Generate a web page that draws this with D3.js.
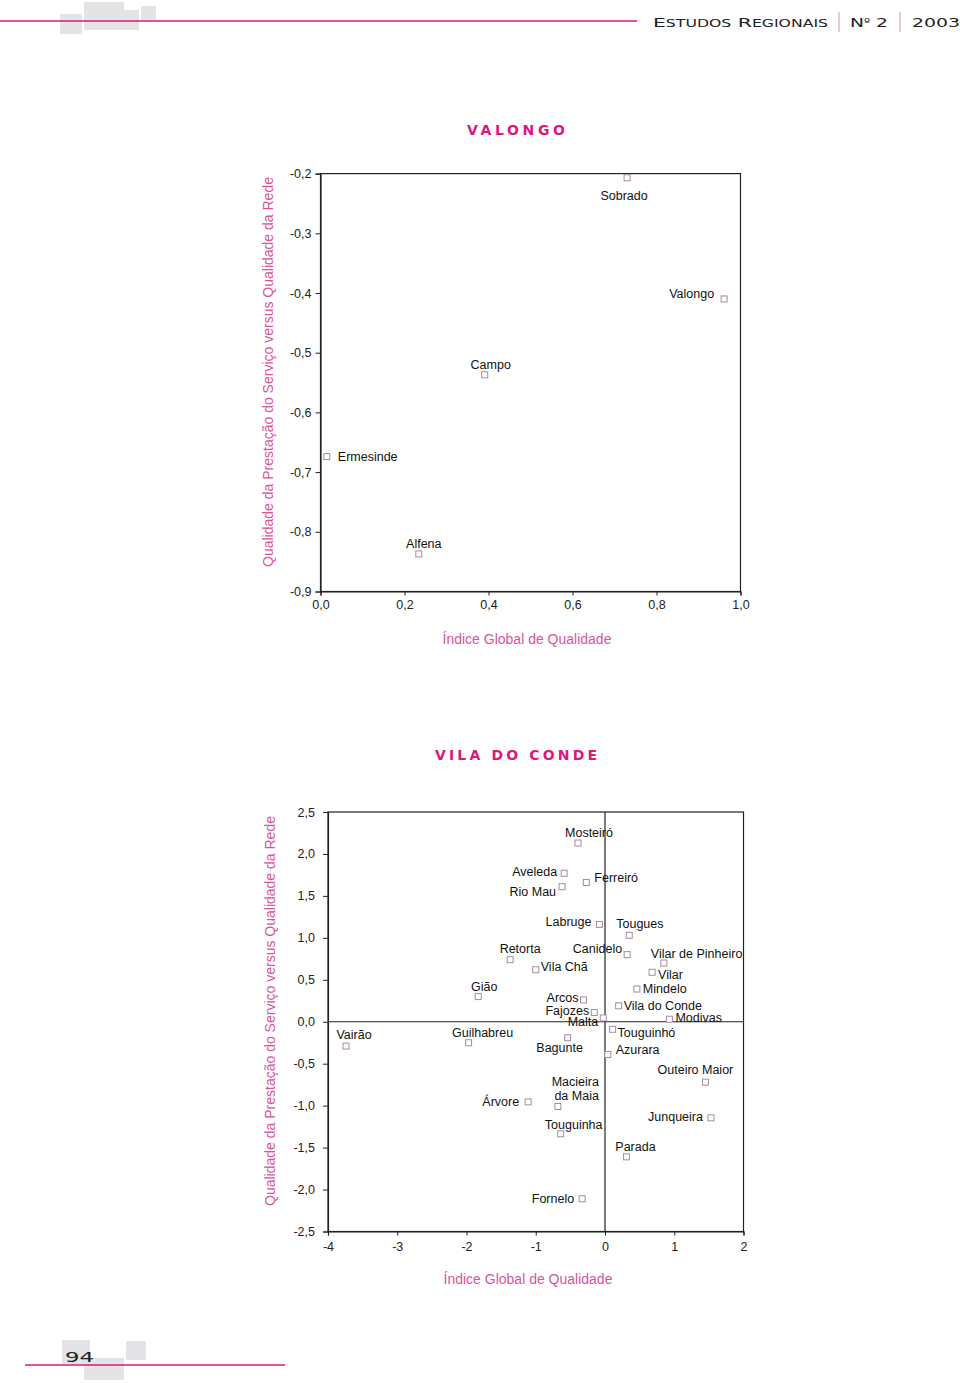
<!DOCTYPE html>
<html><head><meta charset="utf-8">
<script src="https://cdn.jsdelivr.net/npm/d3@7"></script>
<style>
body{margin:0;background:#fff;}
svg{display:block;font-family:"Liberation Sans",Arial,sans-serif;}
</style></head>
<body>
<svg id="c" width="960" height="1383"></svg>
<script>
// ---------- DATA ----------
const valongoNames = ["Sobrado","Valongo","Campo","Ermesinde","Alfena"];
const valongoX = [0.730, 0.961, 0.391, 0.015, 0.234];
const valongoY = [-0.207, -0.410, -0.537, -0.674, -0.837];
const valongoXTicks = [0.0, 0.2, 0.4, 0.6, 0.8, 1.0];
const valongoYTicks = [-0.2, -0.3, -0.4, -0.5, -0.6, -0.7, -0.8, -0.9];

const vcNames = ["Mosteiró","Aveleda","Rio Mau","Ferreiró","Labruge","Tougues","Canidelo",
  "Retorta","Vila Chã","Vilar de Pinheiro","Vilar","Mindelo","Gião","Arcos","Vila do Conde",
  "Fajozes","Malta","Modivas","Touguinhó","Vairão","Guilhabreu","Bagunte","Azurara",
  "Outeiro Maior","Árvore","Macieira\nda Maia","Junqueira","Touguinha","Parada","Fornelo"];
const vcX = [-0.39,-0.59,-0.62,-0.27,-0.08,0.35,0.32,
  -1.37,-1.00,0.85,0.68,0.46,-1.83,-0.31,0.197,
  -0.155,-0.025,0.93,0.11,-3.74,-1.97,-0.54,0.04,
  1.45,-1.11,-0.68,1.53,-0.64,0.31,-0.33];
const vcY = [2.13,1.77,1.61,1.66,1.16,1.03,0.80,
  0.74,0.62,0.70,0.59,0.39,0.30,0.26,0.19,
  0.11,0.045,0.03,-0.09,-0.29,-0.25,-0.19,-0.39,
  -0.72,-0.955,-1.01,-1.145,-1.335,-1.61,-2.11];
const vcXTicks = [-4,-3,-2,-1,0,1,2];
const vcYTicks = [2.5,2.0,1.5,1.0,0.5,0.0,-0.5,-1.0,-1.5,-2.0,-2.5];

const yTitle = "Qualidade da Prestação do Serviço versus Qualidade da Rede";
const xTitle = "Índice Global de Qualidade";

// ---------- LABEL PLACEMENT (layout) ----------
const valongoLab = {
  "Sobrado":["middle",-3,22],"Valongo":["end",-10,-1],"Campo":["middle",6,-6],
  "Ermesinde":["start",11,4],"Alfena":["middle",5,-6]
};
const vcLab = {
  "Mosteiró":["middle",11,-6],"Aveleda":["end",-7,3],"Rio Mau":["end",-6,9],
  "Ferreiró":["start",8,0],"Labruge":["end",-8,2],"Tougues":["start",-13,-7],
  "Canidelo":["end",-5,-2],"Retorta":["middle",10,-7],"Vila Chã":["start",5,1],
  "Vilar de Pinheiro":["start",-13,-5],"Vilar":["start",6,7],"Mindelo":["start",6,4],
  "Gião":["middle",6,-6],"Arcos":["end",-5,2],"Vila do Conde":["start",5,4],
  "Fajozes":["end",-5,2],"Malta":["end",-5,8],"Modivas":["start",6,3],
  "Touguinhó":["start",5,8],"Vairão":["middle",8,-7],"Guilhabreu":["middle",14,-6],
  "Bagunte":["middle",-8,14],"Azurara":["start",8,0],"Outeiro Maior":["middle",-10,-8],
  "Árvore":["end",-9,4],"Macieira\nda Maia":["end",41,-20],"Junqueira":["end",-8,3],
  "Touguinha":["middle",13,-5],"Parada":["middle",9,-6],"Fornelo":["end",-8,4]
};

const PINK = "#e0157f";
const SOFT = "#d9559a";
const MARK = "#a88aa6";
const svg = d3.select("#c");

// ---------- HEADER / FOOTER ----------
const gray = "#e4e4e6";
[[60,14,22,20],[84,2,40,28],[119,10,20,20],[141,6,15,14]].forEach(r=>
  svg.append("rect").attr("x",r[0]).attr("y",r[1]).attr("width",r[2]).attr("height",r[3]).attr("fill",gray));
svg.append("line").attr("x1",0).attr("x2",637).attr("y1",21).attr("y2",21).attr("stroke",PINK).attr("stroke-width",1.5);
const hdr = svg.append("g").attr("font-family","'DejaVu Sans',sans-serif").attr("fill","#222");
hdr.append("text").attr("x",653).attr("y",27).attr("font-size",13).attr("textLength",175).attr("lengthAdjust","spacingAndGlyphs")
  .html('E<tspan font-size="10">STUDOS</tspan> R<tspan font-size="10">EGIONAIS</tspan>');
hdr.append("text").attr("x",850).attr("y",27).attr("font-size",13).attr("textLength",38).attr("lengthAdjust","spacingAndGlyphs")
  .html('N<tspan font-size="9" dy="-2">º</tspan><tspan dy="2"> 2</tspan>');
hdr.append("text").attr("x",912).attr("y",27).attr("font-size",13).attr("textLength",48).attr("lengthAdjust","spacingAndGlyphs").text("2003");
[839,900].forEach(x=>svg.append("line").attr("x1",x).attr("x2",x).attr("y1",12).attr("y2",32).attr("stroke","#d890b8").attr("stroke-width",1));

[[62,1340,28,24],[84,1358,40,22],[126,1341,20,19]].forEach(r=>
  svg.append("rect").attr("x",r[0]).attr("y",r[1]).attr("width",r[2]).attr("height",r[3]).attr("fill",gray));
svg.append("line").attr("x1",25).attr("x2",285).attr("y1",1365).attr("y2",1365).attr("stroke",PINK).attr("stroke-width",1.5);
svg.append("text").attr("x",65).attr("y",1362).attr("font-family","'DejaVu Sans',sans-serif").attr("font-size",14)
  .attr("textLength",29).attr("lengthAdjust","spacingAndGlyphs").attr("fill","#222").text("94");

// ---------- CHART BUILDER ----------
function chart(o){
  const g = svg.append("g");
  const x = d3.scaleLinear().domain(o.xd).range([o.x0,o.x1]);
  const y = d3.scaleLinear().domain(o.yd).range([o.y1,o.y0]);
  g.append("text").attr("x",516).attr("y",o.titleY).attr("text-anchor","middle")
    .attr("font-family","'DejaVu Sans',sans-serif").attr("font-size",14).attr("font-weight","bold")
    .attr("fill",PINK).attr("textLength",o.titleLen).attr("lengthAdjust","spacing").text(o.title);
  g.append("rect").attr("x",o.x0).attr("y",o.y0).attr("width",o.x1-o.x0).attr("height",o.y1-o.y0)
    .attr("fill","none").attr("stroke","#222").attr("stroke-width",1.2);
  const ax = g.append("g").attr("transform",`translate(0,${o.y1})`)
    .call(d3.axisBottom(x).tickValues(o.xt).tickSize(4).tickPadding(o.xpad).tickFormat(o.xfmt));
  const ay = g.append("g").attr("transform",`translate(${o.x0},0)`)
    .call(d3.axisLeft(y).tickValues(o.yt).tickSize(5).tickPadding(o.ypad).tickFormat(o.yfmt));
  [ax,ay].forEach(a=>{
    a.select(".domain").attr("stroke","#222").attr("stroke-width",1.2);
    a.selectAll(".tick line").attr("stroke","#222");
    a.selectAll("text").attr("font-size",12.5).attr("fill","#222").attr("font-family","'Liberation Sans',Arial,sans-serif");
  });
  if(o.zeroLines){
    g.append("line").attr("x1",x(0)).attr("x2",x(0)).attr("y1",o.y0).attr("y2",o.y1).attr("stroke","#222").attr("stroke-width",1.2);
    g.append("line").attr("x1",o.x0).attr("x2",o.x1).attr("y1",y(0)).attr("y2",y(0)).attr("stroke","#222").attr("stroke-width",1.2);
  }
  g.append("text").attr("transform",`translate(${o.ytX},${o.ytY}) rotate(-90)`).attr("text-anchor","middle")
    .attr("font-size",14).attr("fill",SOFT).text(yTitle);
  g.append("text").attr("x",o.xtX).attr("y",o.xtY).attr("text-anchor","middle")
    .attr("font-size",14).attr("fill",SOFT).text(xTitle);
  const data = o.names.map((n,i)=>({n,x:o.xs[i],y:o.ys[i]}));
  g.selectAll("rect.pt").data(data).join("rect").attr("class","pt")
    .attr("x",d=>x(d.x)-3).attr("y",d=>y(d.y)-3).attr("width",6).attr("height",6)
    .attr("fill","#fff").attr("stroke",MARK).attr("stroke-width",1);
  const lab = g.selectAll("text.lb").data(data).join("text").attr("class","lb")
    .attr("font-size",12.5).attr("fill","#111")
    .attr("text-anchor",d=>o.lab[d.n][0])
    .attr("x",d=>x(d.x)+o.lab[d.n][1]).attr("y",d=>y(d.y)+o.lab[d.n][2]);
  lab.each(function(d){
    const t = d3.select(this);
    d.n.split("\n").forEach((l,k)=>t.append("tspan").attr("x",x(d.x)+o.lab[d.n][1]).attr("dy",k?13.5:0).text(l));
  });
}

const comma1 = d=>d3.format(".1f")(d).replace(".",",").replace("−","-");
const intf = d=>d3.format("d")(d).replace("−","-");
chart({title:"VALONGO",titleY:135,titleLen:98,xd:[0,1],yd:[-0.9,-0.2],x0:320.5,x1:740.5,y0:173.6,y1:591.5,
  xt:valongoXTicks,yt:valongoYTicks,xfmt:comma1,yfmt:comma1,xpad:5,ypad:4,
  names:valongoNames,xs:valongoX,ys:valongoY,lab:valongoLab,
  ytX:273,ytY:372,xtX:527,xtY:644});
chart({title:"VILA DO CONDE",titleY:760,titleLen:162,xd:[-4,2],yd:[-2.5,2.5],x0:328,x1:743.5,y0:812,y1:1231.5,
  xt:vcXTicks,yt:vcYTicks,xfmt:intf,yfmt:comma1,xpad:7,ypad:8,
  names:vcNames,xs:vcX,ys:vcY,lab:vcLab,
  ytX:275,ytY:1011,xtX:528,xtY:1284,zeroLines:true});
</script>
</body></html>
